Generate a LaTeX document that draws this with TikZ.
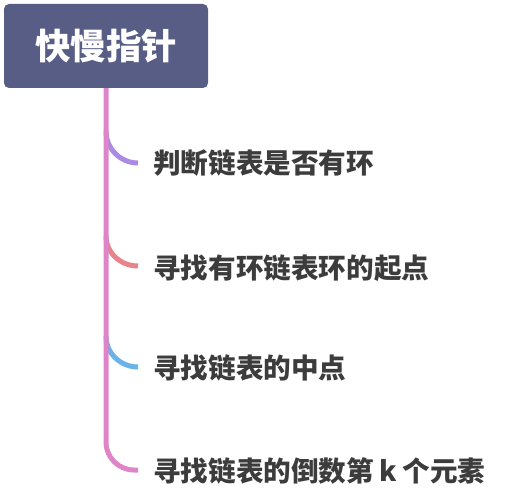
\documentclass[tikz,border=0pt]{standalone}
\usepackage{fontspec}
\newfontfamily\cjk{Noto Sans CJK SC}
\definecolor{rootfill}{HTML}{585D86}
\definecolor{trunkpink}{HTML}{DE84C8}
\definecolor{brpurple}{HTML}{A98BE3}
\definecolor{brred}{HTML}{E7838A}
\definecolor{brblue}{HTML}{6BB2E8}
\definecolor{itemtext}{HTML}{3C3C3C}

\begin{document}
\begin{tikzpicture}[x=1pt, y=-1pt,
		rootbox/.style={fill=rootfill, rounded corners=5pt, minimum width=204pt, minimum height=84pt, inner sep=0pt, text=white, font=\cjk\bfseries\fontsize{35.5}{38}\selectfont},
		item/.style={anchor=west, inner sep=0pt, text=itemtext, font=\cjk\bfseries\fontsize{27.6}{30}\selectfont},
		branch/.style={line width=5pt, line cap=butt}]
		%%%%% START %%%%%
		
		\useasboundingbox (0, 0) rectangle (510, 502);
		
		\node[rootbox] (root) at (106, 46) {快慢指针};
		
		\node[item] (cycle) at (153, 163) {判断链表是否有环};
		\node[item] (entry) at (153, 268) {寻找有环链表环的起点};
		\node[item] (middle) at (153, 368) {寻找链表的中点};
		\node[item] (kth) at (153, 471) {寻找链表的倒数第\hspace{0.2em}k\hspace{0.2em}个元素};
		
		\draw[branch, color=brpurple] (106, 131) to[out=-90, in=180] (138, 163);
		\draw[branch, color=brred] (106, 236) to[out=-90, in=180] (138, 266);
		\draw[branch, color=brblue] (106, 336) to[out=-90, in=180] (138, 367);
		
		\coordinate (trunkend) at (138, 470);
		\draw[branch, color=trunkpink, rounded corners=28pt] (root.south) |- (trunkend);
		
		%%%%% END %%%%%
	\end{tikzpicture}
\end{document}
